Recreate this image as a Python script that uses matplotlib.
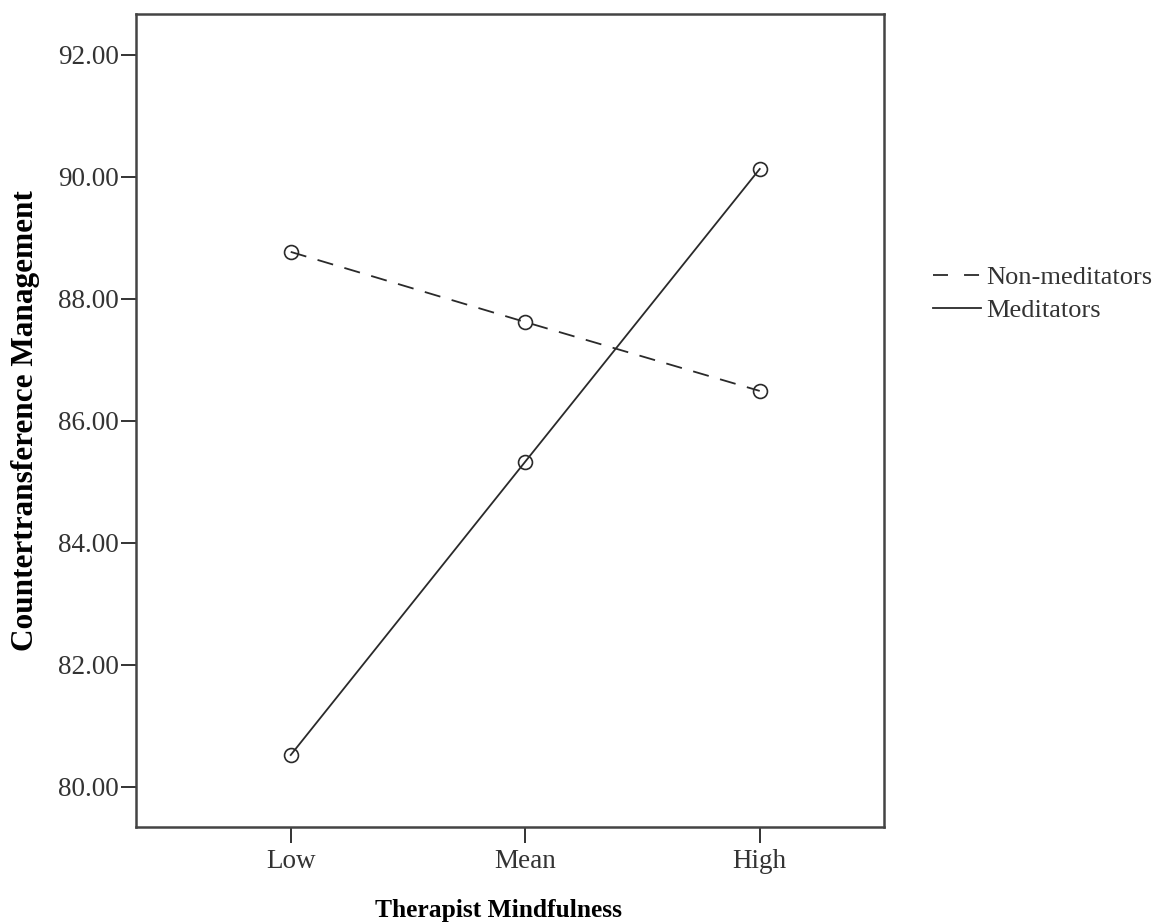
import matplotlib.pyplot as plt
from matplotlib.lines import Line2D

levels = ['Low', 'Mean', 'High']
non_meditators = [88.77, 87.62, 86.49]
meditators = [80.52, 85.33, 90.13]
y_ticks = [80, 82, 84, 86, 88, 90, 92]

plt.rcParams['font.family'] = ['Liberation Serif', 'DejaVu Serif']

fig = plt.figure(figsize=(11.58, 9.24), dpi=100)
ax = fig.add_axes([0.1174, 0.105, 0.646, 0.8798])

dash = (0, (9, 6.5))
x = list(range(len(levels)))
ax.plot(x, non_meditators, color='#2a2a2a', lw=1.3, ls=dash,
        marker='o', ms=10, mfc='none', mec='#2a2a2a', mew=1.2)
ax.plot(x, meditators, color='#2a2a2a', lw=1.3, ls='-',
        marker='o', ms=10, mfc='none', mec='#2a2a2a', mew=1.2)

ax.set_xlim(-0.66, 2.53)
ax.set_ylim(79.34, 92.67)
ax.set_xticks(x)
ax.set_xticklabels(levels)
ax.set_yticks(y_ticks)
ax.set_yticklabels([f'{v:.2f}' for v in y_ticks])
ax.tick_params(labelsize=19.5, width=1.4, color='#333333', labelcolor='#333333')
ax.tick_params(axis='x', length=11.5, pad=4)
ax.tick_params(axis='y', length=10.5, pad=2)
for s in ax.spines.values():
    s.set_linewidth(1.8)
    s.set_color('#444444')

ax.set_xlabel('Therapist Mindfulness', fontsize=18.4, fontweight='bold')
ax.xaxis.set_label_coords(0.484, -0.0885)
ax.set_ylabel('Countertransference Management', fontsize=22.5, fontweight='bold')
ax.yaxis.set_label_coords(-0.128, 0.5)

handles = [Line2D([], [], color='#2a2a2a', lw=1.3, ls=(0, (8.3, 8.9))),
           Line2D([], [], color='#2a2a2a', lw=1.3, ls='-')]
fig.legend(handles, ['Non-meditators', 'Meditators'], loc='upper left',
           bbox_to_anchor=(0.7855, 0.738), frameon=False, fontsize=19,
           handlelength=1.82, handletextpad=0.19, labelspacing=0.35,
           labelcolor='#333333')

fig.savefig('out.png', dpi=100)
